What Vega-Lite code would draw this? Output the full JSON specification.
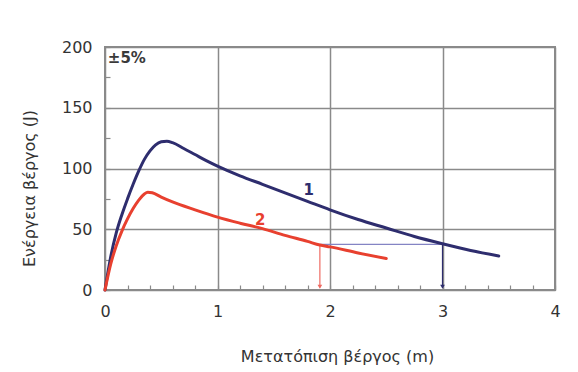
{
  "$schema": "https://vega.github.io/schema/vega-lite/v6.json",
  "width": 450,
  "height": 243,
  "autosize": {"type": "none"},
  "padding": {"left": 105, "top": 47, "right": 23, "bottom": 82},
  "background": "#ffffff",
  "config": {
    "font": "DejaVu Sans",
    "view": {"stroke": "#8a8a8a", "strokeWidth": 2}
  },
  "datasets": {
    "curves": [
      {"series": "1", "x": 0, "y": 0},
      {"series": "1", "x": 0.05, "y": 27},
      {"series": "1", "x": 0.1, "y": 47},
      {"series": "1", "x": 0.15, "y": 62},
      {"series": "1", "x": 0.2, "y": 75},
      {"series": "1", "x": 0.25, "y": 87},
      {"series": "1", "x": 0.3, "y": 98},
      {"series": "1", "x": 0.35, "y": 107.5},
      {"series": "1", "x": 0.4, "y": 114.5},
      {"series": "1", "x": 0.45, "y": 119.5},
      {"series": "1", "x": 0.5, "y": 122},
      {"series": "1", "x": 0.55, "y": 122.5},
      {"series": "1", "x": 0.6, "y": 121.3},
      {"series": "1", "x": 0.7, "y": 116.5},
      {"series": "1", "x": 0.8, "y": 111.5},
      {"series": "1", "x": 0.9, "y": 106.5},
      {"series": "1", "x": 1.0, "y": 102},
      {"series": "1", "x": 1.2, "y": 94},
      {"series": "1", "x": 1.4, "y": 87},
      {"series": "1", "x": 1.6, "y": 80},
      {"series": "1", "x": 1.8, "y": 73},
      {"series": "1", "x": 2.0, "y": 66},
      {"series": "1", "x": 2.25, "y": 58},
      {"series": "1", "x": 2.5, "y": 51},
      {"series": "1", "x": 2.75, "y": 44},
      {"series": "1", "x": 3.0, "y": 38},
      {"series": "1", "x": 3.25, "y": 32.5},
      {"series": "1", "x": 3.5, "y": 28},
      {"series": "2", "x": 0, "y": 0},
      {"series": "2", "x": 0.05, "y": 21},
      {"series": "2", "x": 0.1, "y": 36.5},
      {"series": "2", "x": 0.15, "y": 48.5},
      {"series": "2", "x": 0.2, "y": 58.5},
      {"series": "2", "x": 0.25, "y": 67},
      {"series": "2", "x": 0.3, "y": 74},
      {"series": "2", "x": 0.35, "y": 79},
      {"series": "2", "x": 0.38, "y": 80.5},
      {"series": "2", "x": 0.42, "y": 80},
      {"series": "2", "x": 0.5, "y": 76.5},
      {"series": "2", "x": 0.6, "y": 72.5},
      {"series": "2", "x": 0.8, "y": 66},
      {"series": "2", "x": 1.0, "y": 60},
      {"series": "2", "x": 1.2, "y": 55},
      {"series": "2", "x": 1.4, "y": 50.5},
      {"series": "2", "x": 1.6, "y": 45},
      {"series": "2", "x": 1.8, "y": 40},
      {"series": "2", "x": 1.91, "y": 37},
      {"series": "2", "x": 2.0, "y": 35.5},
      {"series": "2", "x": 2.25, "y": 30.5},
      {"series": "2", "x": 2.5, "y": 26}
    ],
    "guides": [
      {"series": "link", "x": 1.91, "x2": 3.0, "y": 37.5, "y2": 37.5},
      {"series": "drop2", "x": 1.91, "x2": 1.91, "y": 37, "y2": 2},
      {"series": "drop1", "x": 3.0, "x2": 3.0, "y": 37.5, "y2": 2}
    ],
    "heads": [
      {"series": "drop2", "x": 1.91, "y": 2.6},
      {"series": "drop1", "x": 3.0, "y": 2.6}
    ],
    "labels": [
      {"series": "1", "text": "1", "x": 1.81, "y": 82},
      {"series": "2", "text": "2", "x": 1.38, "y": 57.5}
    ],
    "note": [
      {"text": "±5%", "x": 0.025, "y": 191}
    ]
  },
  "encoding": {
    "x": {
      "field": "x",
      "type": "quantitative",
      "scale": {"domain": [0, 4], "nice": false, "zero": false},
      "axis": {
        "values": [0, 0.2, 0.4, 0.6, 0.8, 1, 1.2, 1.4, 1.6, 1.8, 2, 2.2, 2.4, 2.6, 2.8, 3, 3.2, 3.4, 3.6, 3.8, 4],
        "labelExpr": "abs(datum.value - round(datum.value)) < 0.001 ? format(datum.value, 'd') : ''",
        "tickSize": -5,
        "tickColor": "#8a8a8a",
        "tickWidth": 1.2,
        "grid": true,
        "gridColor": "#8a8a8a",
        "gridWidth": 1.5,
        "gridOpacity": {"condition": {"test": "abs(datum.value - round(datum.value)) < 0.001", "value": 1}, "value": 0},
        "domain": false,
        "labelFontSize": 16,
        "labelColor": "#333333",
        "labelPadding": 26,
        "labelBaseline": "middle",
        "labelFlush": false,
        "labelOverlap": false,
        "title": "Μετατόπιση βέργος (m)",
        "titleX": 232,
        "titleY": 66,
        "titleBaseline": "middle",
        "titleAlign": "center",
        "titleFontWeight": "normal",
        "titleFontSize": 16,
        "titleColor": "#333333",
        "zindex": 0
      }
    },
    "y": {
      "field": "y",
      "type": "quantitative",
      "scale": {"domain": [0, 200], "nice": false, "zero": false},
      "axis": {
        "values": [0, 25, 50, 75, 100, 125, 150, 175, 200],
        "labelExpr": "datum.value % 50 === 0 ? format(datum.value, 'd') : ''",
        "tickSize": -5,
        "tickColor": "#8a8a8a",
        "tickWidth": 1.2,
        "grid": true,
        "gridColor": "#8a8a8a",
        "gridWidth": 1.5,
        "gridOpacity": {"condition": {"test": "datum.value % 50 === 0", "value": 1}, "value": 0},
        "domain": false,
        "labelFontSize": 16,
        "labelColor": "#333333",
        "labelPadding": 18,
        "labelBaseline": "middle",
        "labelFlush": false,
        "labelOverlap": false,
        "title": "Ενέργεια βέργος (J)",
        "titleX": -76,
        "titleY": 141,
        "titleAngle": 270,
        "titleBaseline": "middle",
        "titleAlign": "center",
        "titleFontWeight": "normal",
        "titleFontSize": 16,
        "titleColor": "#333333",
        "zindex": 0
      }
    },
    "color": {
      "field": "series",
      "type": "nominal",
      "scale": {"domain": ["1", "2", "link", "drop2", "drop1"], "range": ["#2e2d6e", "#e8402f", "#8484c4", "#ef6a62", "#2e2d6e"]},
      "legend": null
    }
  },
  "layer": [
    {
      "data": {"name": "guides"},
      "mark": {"type": "rule", "strokeWidth": 1.2},
      "encoding": {
        "x2": {"field": "x2"},
        "y2": {"field": "y2"}
      }
    },
    {
      "data": {"name": "heads"},
      "mark": {"type": "point", "shape": "triangle-down", "filled": true, "size": 22, "opacity": 1}
    },
    {
      "data": {"name": "curves"},
      "mark": {"type": "line", "strokeWidth": 3, "interpolate": "monotone", "strokeJoin": "round", "strokeCap": "round"}
    },
    {
      "data": {"name": "labels"},
      "mark": {"type": "text", "fontSize": 15, "fontWeight": "bold", "align": "center", "baseline": "middle"},
      "encoding": {
        "text": {"field": "text"}
      }
    },
    {
      "data": {"name": "note"},
      "mark": {"type": "text", "fontSize": 15, "fontWeight": "bold", "align": "left", "baseline": "middle"},
      "encoding": {
        "text": {"field": "text"},
        "color": {"value": "#3a3a3a"}
      }
    }
  ]
}
